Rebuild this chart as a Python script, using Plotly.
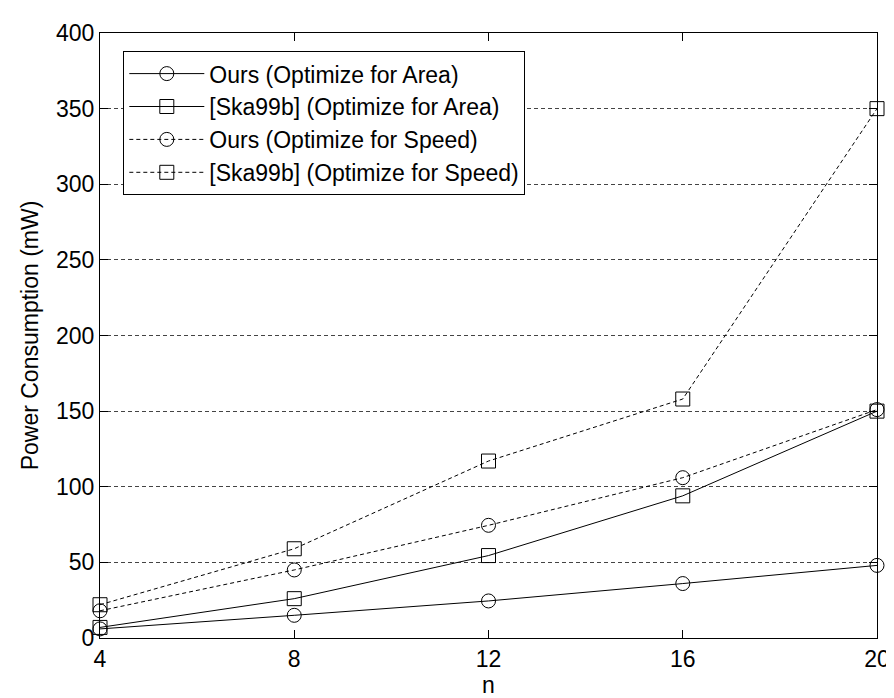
import plotly.graph_objects as go

n_values = [4, 8, 12, 16, 20]
ours_area = [6, 15, 24.5, 36, 48]
ska_area = [7, 26, 54.5, 94, 150]
ours_speed = [18, 45, 74.5, 106, 151]
ska_speed = [22, 59, 117, 158, 350]

series_names = [
    "Ours (Optimize for Area)",
    "[Ska99b] (Optimize for Area)",
    "Ours (Optimize for Speed)",
    "[Ska99b] (Optimize for Speed)",
]
x_ticks = [4, 8, 12, 16, 20]
y_ticks = [0, 50, 100, 150, 200, 250, 300, 350, 400]

FONT = "Liberation Sans, Arial, sans-serif"
fig = go.Figure()
specs = [
    (ours_area, "circle-open", "solid"),
    (ska_area, "square-open", "solid"),
    (ours_speed, "circle-open", "4px,3px"),
    (ska_speed, "square-open", "4px,3px"),
]
for (vals, sym, dash), name in zip(specs, series_names):
    fig.add_trace(go.Scatter(
        x=n_values, y=vals, name=name, mode="lines+markers",
        line=dict(color="black", width=1, dash=dash),
        marker=dict(symbol=sym, size=14, color="black", line=dict(width=1, color="black")),
        cliponaxis=False,
    ))

fig.update_layout(
    width=894, height=698,
    margin=dict(l=92, r=16, t=14, b=62),
    paper_bgcolor="white", plot_bgcolor="white",
    font=dict(family=FONT, color="black", size=23),
    showlegend=True,
    legend=dict(
        x=0.03, y=0.97, xanchor="left", yanchor="top",
        bgcolor="white", bordercolor="black", borderwidth=1,
        font=dict(family=FONT, size=23, color="black"),
        itemwidth=75, tracegroupgap=0,
    ),
    xaxis=dict(
        range=[4, 20], tickvals=x_ticks, ticktext=[str(v) for v in x_ticks],
        ticks="inside", ticklen=8, tickcolor="black", mirror="ticks",
        showline=True, linecolor="black", linewidth=1, showgrid=False, zeroline=False,
        tickfont=dict(size=23),
        title=dict(text="n", font=dict(size=23), standoff=6),
    ),
    yaxis=dict(
        range=[0, 400], tickvals=y_ticks, ticktext=[str(v) for v in y_ticks],
        ticks="inside", ticklen=8, tickcolor="black", mirror="ticks",
        showline=True, linecolor="black", linewidth=1,
        showgrid=True, gridcolor="#444", griddash="4px,3px", gridwidth=1, zeroline=False,
        tickfont=dict(size=23),
        title=dict(text="Power Consumption (mW)", font=dict(size=23), standoff=10),
    ),
)

fig.write_html("out.html")
